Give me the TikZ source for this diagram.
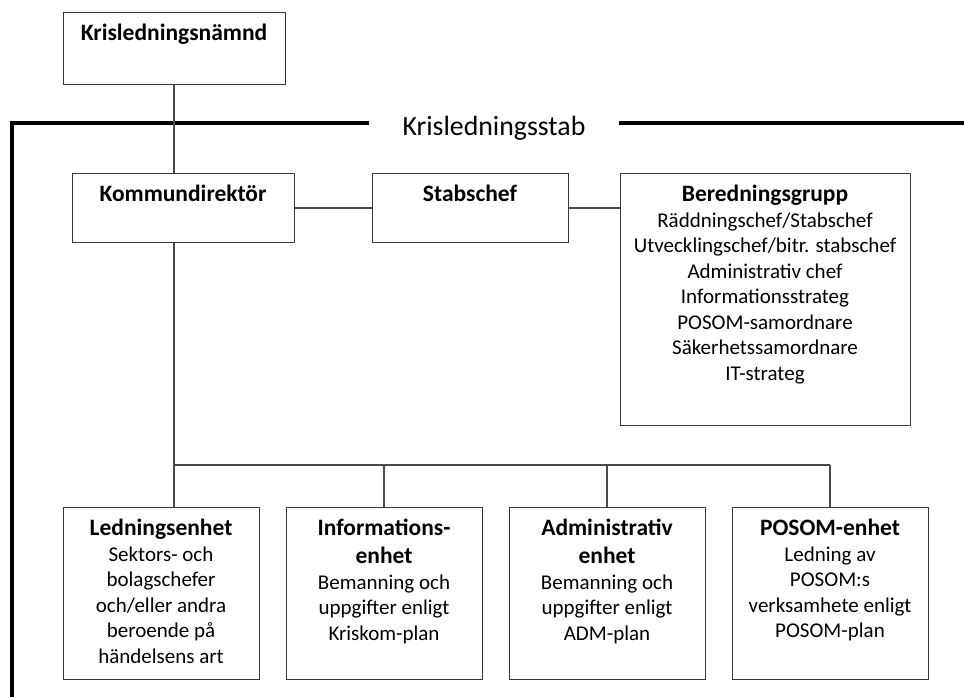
\documentclass[tikz,border=0pt]{standalone}
\usepackage{fontspec}
\setmainfont{Carlito}
\usetikzlibrary{positioning}

\definecolor{boxgray}{HTML}{3A3A3A}
\definecolor{linegray}{HTML}{4A4A4A}

\newcommand{\cell}[4]{\parbox[c][#2][t]{#1}{\centering\vspace*{8.5pt}%
	{\fontsize{23.5}{28}\bfseries\strut#3\par}#4}}

\begin{document}
\begin{tikzpicture}[x=1pt, y=-1pt, node distance=26pt,
	every node/.style={font=\fontsize{21}{25.5}\selectfont},
	unit/.style={draw=boxgray, line width=1pt, inner sep=0pt, anchor=north},
	link/.style={draw=linegray, line width=1.2pt},
	frame/.style={line width=3.2pt}]
	\useasboundingbox (0,0) rectangle (964,697);

	\node[unit] (kris) at (174,12) {\cell{222pt}{72pt}{Krisledningsnämnd}{}};
	\node[unit] (kd) at (183,173) {\cell{222pt}{69pt}{Kommundirektör}{}};
	\node[unit, right=77pt of kd] (stab) {\cell{196pt}{69pt}{Stabschef}{}};
	\node[unit, right=51pt of stab.north east, anchor=north west] (bered) {\cell{290pt}{252pt}{Beredningsgrupp}{%
		Räddningschef/Stabschef\\Utvecklingschef/bitr. stabschef\\Administrativ chef\\
		Informationsstrateg\\POSOM-samordnare\\Säkerhetssamordnare\\IT-strateg}};

	\node[unit] (led) at (161,507) {\cell{196pt}{172pt}{Ledningsenhet}{%
		Sektors- och\\bolagschefer\\och/eller andra\\beroende på\\händelsens art}};
	\node[unit, right=of led] (info) {\cell{196pt}{172pt}{Informations-\\enhet}{%
		Bemanning och\\uppgifter enligt\\Kriskom-plan}};
	\node[unit, right=of info] (adm) {\cell{196pt}{172pt}{Administrativ\\enhet}{%
		Bemanning och\\uppgifter enligt\\ADM-plan}};
	\node[unit, right=of adm] (posom) {\cell{196pt}{172pt}{POSOM-enhet}{%
		Ledning av\\POSOM:s\\verksamhete enligt\\POSOM-plan}};

	\node[font=\fontsize{27.8}{32}\selectfont, inner xsep=33pt, inner ysep=0pt, anchor=base] (stabtitle) at (494,135) {Krisledningsstab};

	\coordinate (tl) at (12,123);
	\coordinate (tr) at (964,123);
	\coordinate (bl) at (12,697);
	\coordinate (bus) at (174,465);

	\draw[frame] (tl -| stabtitle.west) -- (tl) -- (bl);
	\draw[frame] (tl -| stabtitle.east) -- (tr);

	\draw[link] (kris.south) -- (kris.south |- kd.north);
	\draw[link] (kd.east) -- (stab.west);
	\draw[link] (stab.east) -- (stab.east -| bered.west);
	\draw[link] (kris.south |- kd.south) -- (bus) -- (bus -| posom.north);
	\draw[link] (bus) -- (bus |- led.north);
	\foreach \u in {info, adm, posom}
		\draw[link] (bus -| \u.north) -- (\u.north);
\end{tikzpicture}
\end{document}
